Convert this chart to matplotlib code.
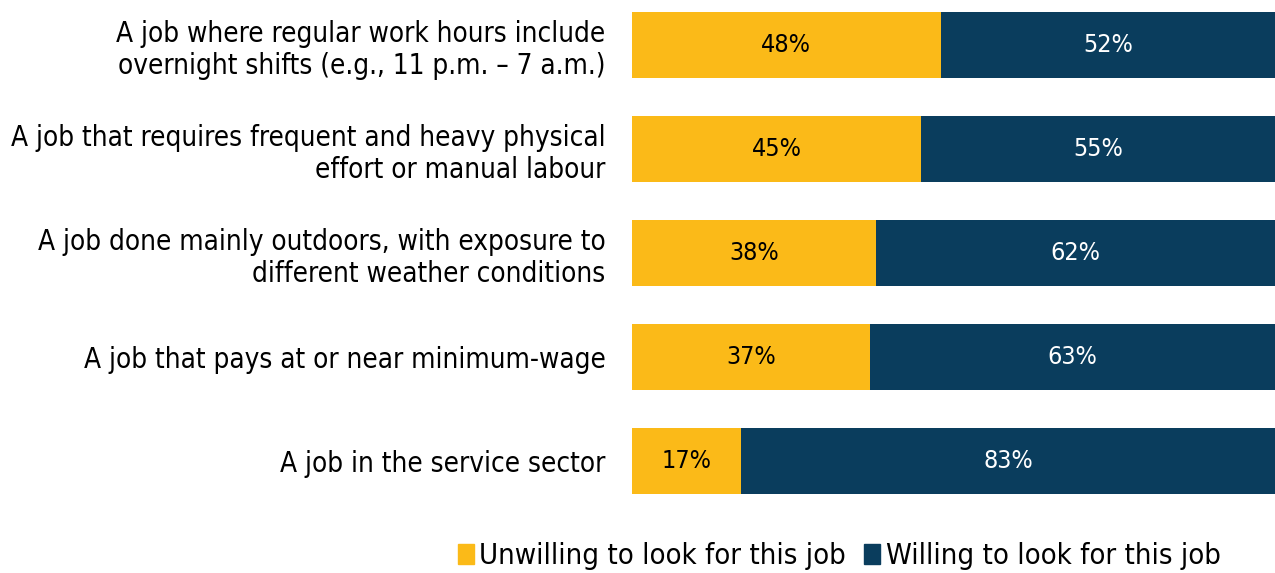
import matplotlib.pyplot as plt
from matplotlib.patches import Patch

categories = [
    "A job where regular work hours include\novernight shifts (e.g., 11 p.m. \u2013 7 a.m.)",
    "A job that requires frequent and heavy physical\neffort or manual labour",
    "A job done mainly outdoors, with exposure to\ndifferent weather conditions",
    "A job that pays at or near minimum-wage",
    "A job in the service sector",
]
unwilling = [48, 45, 38, 37, 17]
willing = [52, 55, 62, 63, 83]

yellow = "#FBBA18"
navy = "#0A3D5D"

plt.rcParams['font.family'] = ['DejaVu Sans']
plt.rcParams['font.stretch'] = 'condensed'

fig = plt.figure(figsize=(12.75, 5.73), dpi=100)
ax = fig.add_axes([632 / 1275, 79 / 573, 1 - 632 / 1275, 482 / 573])

y = list(range(len(categories)))
ax.barh(y, unwilling, height=0.635, color=yellow, edgecolor='none')
ax.barh(y, willing, left=unwilling, height=0.635, color=navy, edgecolor='none')

for i in y:
    ax.text(unwilling[i] / 2, i, f"{unwilling[i]}%", ha='center', va='center',
            fontsize=18, color='black')
    ax.text(unwilling[i] + willing[i] / 2, i, f"{willing[i]}%", ha='center',
            va='center', fontsize=18, color='white')

ax.set_xlim(0, 100)
ax.set_ylim(4.317, -0.317)
ax.set_yticks(y)
ax.set_yticklabels(categories, fontsize=20, ha='right', multialignment='right',
                   linespacing=1.2)
ax.tick_params(axis='y', length=0, pad=19)
ax.set_xticks([])
for s in ax.spines.values():
    s.set_visible(False)

handles = [Patch(color=yellow, label="Unwilling to look for this job"),
           Patch(color=navy, label="Willing to look for this job")]
fig.legend(handles=handles, loc='center', bbox_to_anchor=(839 / 1275, 1 - 556 / 573),
           ncol=2, frameon=False, fontsize=21, handlelength=0.55, handleheight=0.7,
           handletextpad=0.2, columnspacing=0.6, borderpad=0.1)

fig.savefig("out.png", dpi=100)
